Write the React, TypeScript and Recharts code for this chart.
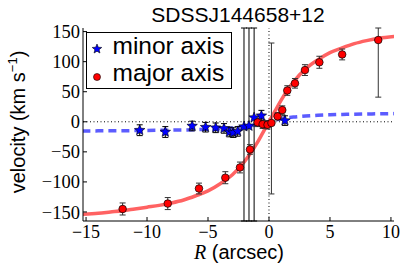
import {
  ComposedChart,
  Line,
  Scatter,
  ErrorBar,
  XAxis,
  YAxis,
  ReferenceLine,
} from "recharts";

// minor axis points: R, velocity, error [down, up]
const MINOR_R = [-10.6, -8.5, -6.3, -5.2, -4.37, -3.69, -3.25, -2.93, -2.57, -2.05, -1.64, -1.22, -0.62, 1.31];
const MINOR_V = [-14, -17, -7, -9, -10, -11, -17, -18, -16, -8, -7, 7, 10, 2];
// the three huge bars run off both edges of the plot
const MINOR_ERR: (number | [number, number])[] = [9, 9, 8, 8, 8, 8, 8, 8, 8, [157, 164], [158, 163], [172, 149], 9, 8];

// major axis points
const MAJOR_R = [-12.0, -8.3, -5.74, -3.58, -2.38, -1.56, -0.93, -0.52, -0.12, 0.2, 0.71, 1.09, 1.5, 2.13, 2.95, 4.13, 6.0, 8.96];
const MAJOR_V = [-145, -136, -111, -93, -76, -46, -1, -4, -5, -2, 9, 19.5, 52, 64, 86, 99, 112, 136];
const MAJOR_ERR: (number | [number, number])[] = [10, 10, 9, 10, 9, 8, 7, 7, 7, [118, 133], 6, 7, 8, 8, 9, 10, 9, [95, 20]];

// fitted curves
const CURVE_R = [-15.3, -14, -13, -12, -11, -10, -9, -8, -7, -6, -5, -4, -3, -2, -1.5, -1, -0.5, 0, 0.5, 1, 1.5, 2, 3, 4, 5, 6, 7, 8, 9, 10.3];
const MAJOR_FIT = [-154, -152, -150, -148, -145, -142, -139, -135, -130, -123, -115, -103, -88, -66, -52, -36, -18, 0, 18, 36, 52, 66, 88, 103, 115, 123, 130, 135, 139, 142];
const MINOR_FIT = [-15.3, -15.1, -15, -14.8, -14.6, -14.4, -14.2, -13.9, -13.6, -13.1, -12.5, -11.6, -10.3, -8.2, -6.8, -4.9, -2.6, 0, 2.6, 4.9, 6.5, 7.8, 9.6, 10.8, 11.6, 12.2, 12.6, 13, 13.3, 13.6];

const X_TICKS = [-15, -10, -5, 0, 5, 10];
const Y_TICKS = [-150, -100, -50, 0, 50, 100, 150];

const minorData = MINOR_R.map((x, i) => ({ x, v: MINOR_V[i], err: MINOR_ERR[i] }));
const majorData = MAJOR_R.map((x, i) => ({ x, v: MAJOR_V[i], err: MAJOR_ERR[i] }));
const majorFit = CURVE_R.map((x, i) => ({ x, v: MAJOR_FIT[i] }));
const minorFit = CURVE_R.map((x, i) => ({ x, v: MINOR_FIT[i] }));

const SERIF = "'Liberation Serif', 'DejaVu Serif', serif";
const SANS = "'Liberation Sans', Arial, sans-serif";

const fmt = (v: number) => (v < 0 ? `\u2212${-v}` : `${v}`);

function starPath(cx: number, cy: number, ro: number, ri: number) {
  let d = "";
  for (let k = 0; k < 10; k++) {
    const r = k % 2 === 0 ? ro : ri;
    const a = -Math.PI / 2 + (k * Math.PI) / 5;
    d += `${k === 0 ? "M" : "L"}${cx + r * Math.cos(a)},${cy + r * Math.sin(a)}`;
  }
  return d + "Z";
}

const Star = (props: any) => (
  <path d={starPath(props.cx, props.cy, 5.5, 2.4)} fill="#0000ff" stroke="#000" strokeWidth={0.6} />
);

const Dot = (props: any) => (
  <circle cx={props.cx} cy={props.cy} r={3.8} fill="#ff0000" stroke="#000" strokeWidth={0.7} />
);

export default function App() {
  return (
    <div style={{ position: "absolute", left: 0, top: 0, width: 415, height: 277, background: "#fff" }}>
      <ComposedChart
        width={415}
        height={277}
        margin={{ top: 28, right: 21, bottom: 0, left: 0 }}
      >
        <XAxis
          dataKey="x"
          type="number"
          domain={[-15.25, 10.25]}
          ticks={X_TICKS}
          allowDataOverflow
          tickFormatter={fmt}
          height={56}
          tickSize={-4}
          tickMargin={8}
          stroke="#000"
          tick={{ fill: "#000", fontFamily: SERIF, fontSize: 18 }}
        />
        <XAxis
          xAxisId="top"
          orientation="top"
          type="number"
          domain={[-15.25, 10.25]}
          ticks={X_TICKS}
          allowDataOverflow
          height={0}
          tickSize={-4}
          tick={false}
          stroke="#000"
        />
        <YAxis
          dataKey="v"
          type="number"
          domain={[-165, 156]}
          ticks={Y_TICKS}
          allowDataOverflow
          tickFormatter={fmt}
          width={83}
          tickSize={-4}
          tickMargin={7}
          stroke="#000"
          tick={{ fill: "#000", fontFamily: SERIF, fontSize: 18.5 }}
        />
        <YAxis
          yAxisId="right"
          orientation="right"
          type="number"
          domain={[-165, 156]}
          ticks={Y_TICKS}
          allowDataOverflow
          width={0}
          tickSize={-4}
          tick={false}
          stroke="#000"
        />
        <ReferenceLine y={0} stroke="#000" strokeDasharray="1 2.5" strokeWidth={1} />
        <ReferenceLine x={0} stroke="#000" strokeDasharray="1 2.5" strokeWidth={1} />
        <Line
          data={minorFit}
          dataKey="v"
          type="monotone"
          dot={false}
          stroke="#5c5cff"
          strokeWidth={3.5}
          strokeDasharray="8 5"
          isAnimationActive={false}
        />
        <Line
          data={majorFit}
          dataKey="v"
          type="monotone"
          dot={false}
          stroke="#ff6262"
          strokeWidth={3.5}
          isAnimationActive={false}
        />
        <Scatter data={minorData} dataKey="v" shape={Star} isAnimationActive={false}>
          <ErrorBar dataKey="err" direction="y" width={3} stroke="#000" strokeWidth={1} />
        </Scatter>
        <Scatter data={majorData} dataKey="v" shape={Dot} isAnimationActive={false}>
          <ErrorBar dataKey="err" direction="y" width={3} stroke="#333" strokeWidth={1} />
        </Scatter>
      </ComposedChart>
      <svg
        width={415}
        height={277}
        style={{ position: "absolute", left: 0, top: 0, pointerEvents: "none" }}
      >
        <text x={238} y={21.5} textAnchor="middle" fontFamily={SANS} fontSize={21} fill="#000">
          SDSSJ144658+12
        </text>
        <text x={239} y={258.5} textAnchor="middle" fontSize={20} fill="#000">
          <tspan fontFamily={SERIF} fontStyle="italic">R</tspan>
          <tspan fontFamily={SANS}> (arcsec)</tspan>
        </text>
        <text
          transform="translate(25,122) rotate(-90)"
          textAnchor="middle"
          fontFamily={SANS}
          fontSize={20}
          fill="#000"
        >
          velocity (km s<tspan fontSize={13} dy={-8}>{"\u22121"}</tspan>
          <tspan dy={8}>)</tspan>
        </text>
        <rect x={86.5} y={32.5} width={145} height={56} fill="#fff" stroke="#000" strokeWidth={1} />
        <path d={starPath(97, 49, 5, 2.2)} fill="#0000ff" stroke="#000" strokeWidth={0.6} />
        <circle cx={97} cy={77} r={3.5} fill="#ff0000" stroke="#000" strokeWidth={0.6} />
        <text x={112.5} y={54} fontFamily={SANS} fontSize={24.5} fill="#000">
          minor axis
        </text>
        <text x={112.5} y={80.5} fontFamily={SANS} fontSize={24.5} fill="#000">
          major axis
        </text>
      </svg>
    </div>
  );
}
